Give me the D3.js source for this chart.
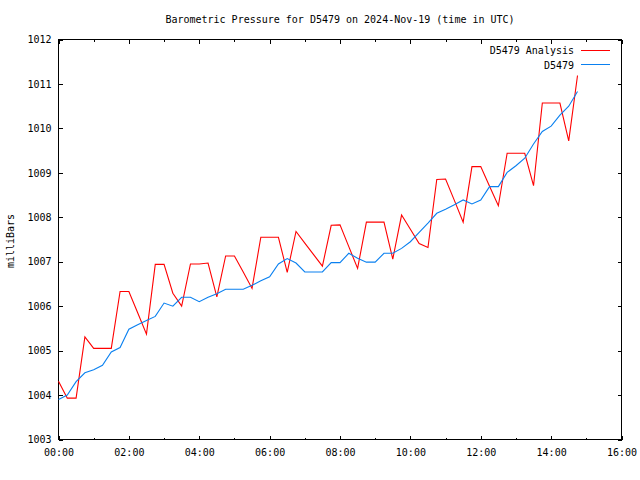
<!DOCTYPE html>
<html>
<head>
<meta charset="utf-8">
<script src="https://cdn.jsdelivr.net/npm/d3@7"></script>
<style>
  html, body { margin: 0; padding: 0; background: #fff; }
  svg { display: block; }
  text { font-family: "DejaVu Sans Mono", "Liberation Mono", monospace; font-size: 10px; fill: #000; }
</style>
</head>
<body>
<script>
const titleText = "Barometric Pressure for D5479 on 2024-Nov-19 (time in UTC)";
const yLabel = "milliBars";
const seriesNames = ["D5479 Analysis", "D5479"];
const seriesColors = ["#ff0000", "#0a80f0"];

const times = [
  "00:00","00:15","00:30","00:45","01:00","01:15","01:30","01:45","02:00","02:15",
  "02:30","02:45","03:00","03:15","03:30","03:45","04:00","04:15","04:30","04:45",
  "05:00","05:15","05:30","05:45","06:00","06:15","06:30","06:45","07:00","07:15",
  "07:30","07:45","08:00","08:15","08:30","08:45","09:00","09:15","09:30","09:45",
  "10:00","10:15","10:30","10:45","11:00","11:15","11:30","11:45","12:00","12:15",
  "12:30","12:45","13:00","13:15","13:30","13:45","14:00","14:15","14:30","14:45"
];

const analysis = [
  1004.31,1003.93,1003.93,1005.31,1005.05,1005.05,1005.05,1006.33,1006.33,1005.85,
  1005.37,1006.94,1006.94,1006.29,1006.00,1006.95,1006.95,1006.97,1006.21,1007.13,
  1007.13,1006.77,1006.40,1007.55,1007.55,1007.55,1006.76,1007.68,1007.42,1007.16,
  1006.90,1007.82,1007.83,1007.34,1006.85,1007.89,1007.89,1007.89,1007.06,1008.05,
  1007.73,1007.41,1007.32,1008.85,1008.86,1008.38,1007.89,1009.14,1009.14,1008.70,
  1008.26,1009.44,1009.44,1009.44,1008.71,1010.57,1010.57,1010.57,1009.72,1011.19
];

const observed = [
  1003.90,1004.00,1004.30,1004.50,1004.57,1004.67,1004.97,1005.07,1005.48,1005.58,
  1005.68,1005.77,1006.07,1006.00,1006.20,1006.20,1006.10,1006.20,1006.28,1006.38,
  1006.38,1006.38,1006.47,1006.57,1006.66,1006.95,1007.07,1006.97,1006.77,1006.77,
  1006.77,1006.98,1006.98,1007.19,1007.08,1006.99,1006.99,1007.19,1007.19,1007.30,
  1007.45,1007.66,1007.87,1008.09,1008.18,1008.28,1008.39,1008.30,1008.39,1008.69,
  1008.69,1009.01,1009.16,1009.33,1009.65,1009.93,1010.05,1010.30,1010.50,1010.83
];

const xTickLabels = ["00:00","02:00","04:00","06:00","08:00","10:00","12:00","14:00","16:00"];
const yTicks = [1003,1004,1005,1006,1007,1008,1009,1010,1011,1012];

const W = 640, H = 480;
const m = { left: 58.5, right: 621.5, top: 39.5, bottom: 439.5 };

const parse = d3.utcParse("%Y-%m-%d %H:%M");
const day = "2024-11-19";
const t0 = parse(day + " 00:00");
const t1 = parse(day + " 16:00");

const x = d3.scaleUtc().domain([t0, t1]).range([m.left, m.right]);
const y = d3.scaleLinear().domain([1003, 1012]).range([m.bottom, m.top]);

const svg = d3.select("body").append("svg").attr("width", W).attr("height", H);
svg.append("rect").attr("width", W).attr("height", H).attr("fill", "#fff");

// Title
svg.append("text").attr("x", (m.left + m.right) / 2).attr("y", 23)
  .attr("text-anchor", "middle").text(titleText);

// Y label
svg.append("text").attr("transform", "translate(14," + 241 + ") rotate(-90)")
  .attr("text-anchor", "middle").text(yLabel);

const g = svg.append("g").attr("shape-rendering", "crispEdges");

const fmt = d3.utcFormat("%H:%M");
const majorT = d3.utcHour.every(2).range(t0, d3.utcHour.offset(t1, 1));
const minorT = d3.utcHour.every(1).range(t0, d3.utcHour.offset(t1, 1)).filter(d => d.getUTCHours() % 2 === 1);

// Bottom axis (ticks inward)
const xb = d3.axisBottom(x).tickValues(majorT).tickSize(-4).tickPadding(9)
  .tickFormat((d, i) => xTickLabels[i]);
g.append("g").attr("transform", `translate(0,${m.bottom})`).call(xb)
  .call(s => s.select(".domain").remove());
g.append("g").attr("transform", `translate(0,${m.bottom})`)
  .call(d3.axisBottom(x).tickValues(minorT).tickSize(-2).tickFormat(""))
  .call(s => s.select(".domain").remove());
// Top mirror ticks
g.append("g").attr("transform", `translate(0,${m.top})`)
  .call(d3.axisTop(x).tickValues(majorT).tickSize(-4).tickFormat(""))
  .call(s => s.select(".domain").remove());
g.append("g").attr("transform", `translate(0,${m.top})`)
  .call(d3.axisTop(x).tickValues(minorT).tickSize(-2).tickFormat(""))
  .call(s => s.select(".domain").remove());
// Left axis
g.append("g").attr("transform", `translate(${m.left},0)`)
  .call(d3.axisLeft(y).tickValues(yTicks).tickSize(-4).tickPadding(7).tickFormat(d3.format("d")))
  .call(s => s.select(".domain").remove());
// Right mirror
g.append("g").attr("transform", `translate(${m.right},0)`)
  .call(d3.axisRight(y).tickValues(yTicks).tickSize(-4).tickFormat(""))
  .call(s => s.select(".domain").remove());

g.selectAll(".tick line").attr("stroke", "#000");
svg.selectAll(".tick text").attr("font-family", null).attr("font-size", null).attr("fill", "#000");

// Frame
g.append("rect").attr("x", m.left).attr("y", m.top)
  .attr("width", m.right - m.left).attr("height", m.bottom - m.top)
  .attr("fill", "none").attr("stroke", "#000");

// Lines
const tt = times.map(s => parse(day + " " + s));
const line = d3.line().x(d => x(d[0])).y(d => y(d[1]));
[analysis, observed].forEach((vals, k) => {
  svg.append("path")
    .datum(vals.map((v, i) => [tt[i], v]))
    .attr("d", line)
    .attr("fill", "none")
    .attr("stroke", seriesColors[k])
    .attr("stroke-width", 1.1);
});

// Legend
seriesNames.forEach((name, k) => {
  const ly = 50 + k * 14.5;
  svg.append("text").attr("x", 574).attr("y", ly + 4).attr("text-anchor", "end").text(name);
  svg.append("line").attr("x1", 581).attr("x2", 610).attr("y1", ly).attr("y2", ly)
    .attr("stroke", seriesColors[k]).attr("shape-rendering", "crispEdges");
});
</script>
</body>
</html>
